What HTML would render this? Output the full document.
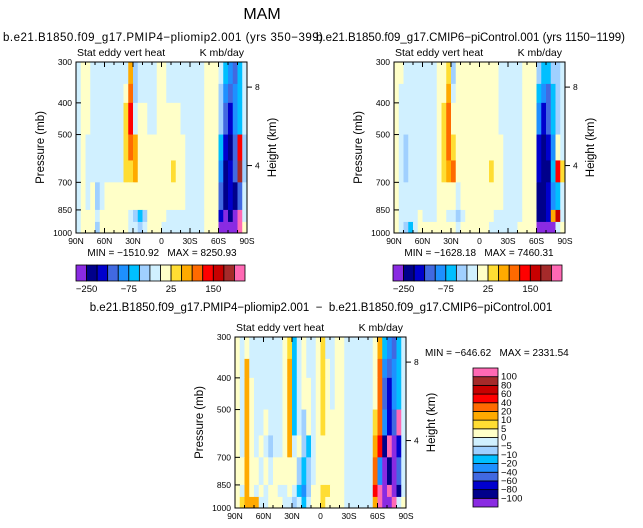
<!DOCTYPE html>
<html><head><meta charset="utf-8"><style>
body{margin:0;background:#fff;width:643px;height:528px;overflow:hidden}
svg{display:block;font-family:"Liberation Sans",sans-serif}
text{white-space:pre}
</style></head><body>
<svg id="s" width="643" height="528" viewBox="0 0 643 528">
<text x="262" y="19" font-size="16" text-anchor="middle">MAM</text>
<text x="3" y="41" font-size="11.5" textLength="320">b.e21.B1850.f09_g17.PMIP4−pliomip2.001 (yrs 350−399)</text>
<text x="316" y="41" font-size="11.5">b.e21.B1850.f09_g17.CMIP6−piControl.001 (yrs 1150−1199)</text>
<text x="321" y="311" font-size="11.5" text-anchor="middle">b.e21.B1850.f09_g17.PMIP4−pliomip2.001  −  b.e21.B1850.f09_g17.CMIP6−piControl.001</text>
</svg>
<script>
const latLabels=["90N","60N","30N","0","30S","60S","90S"];
const pTicks=[300,400,500,700,850,1000];
const pEdges=[300,350,400,500,600,700,850,925,1000];
const hTickLabels=["8","4"];
const hTickP=[358,622];
const topLevels=[-250,-200,-150,-100,-75,-50,-25,0,25,50,75,100,150,200,250];
const diffLevels=[-100,-80,-60,-40,-20,-10,-5,0,5,10,20,40,60,80,100];
const colors=["#8a2be2","#00008b","#0000cd","#4169e1","#1e90ff","#00bfff","#a0d0ff","#d0f0ff","#ffffc8","#ffdd33","#ffaa00","#ff6a00","#ff0000","#c80000","#a52a2a","#ff69b4"];
const gridA=[
[-10,10,10,-10,-10,-10,-10,-10,-10,-10,-10,60,-30,-10,-10,-10,-10,10,10,-10,-10,-10,-10,-10,-10,-10,-10,10,10,10,-10,-60,-90,-120,-60,-10],
[-10,10,10,-10,-10,-10,-10,-10,-10,-10,10,90,-30,-10,-10,-10,-10,10,10,-10,-10,-10,-10,-10,-10,-10,-10,10,10,10,-30,-90,-120,-90,-60,-10],
[-10,10,10,-10,-10,-10,-10,-10,-10,-10,30,120,-10,10,10,-10,-10,10,10,10,10,10,-10,-10,-10,-10,-10,10,10,10,-30,-120,-170,-90,-60,-10],
[-10,10,-10,-10,-10,-10,-10,-10,-10,-10,30,90,60,10,10,10,10,10,10,10,10,10,10,-10,-10,-10,-10,10,10,10,-60,-170,-220,-120,120,-30],
[-10,10,-10,-10,-10,-10,-10,-10,-10,-10,30,30,60,10,10,10,10,10,10,10,30,10,10,-10,-10,-10,-10,10,10,10,-90,-220,-170,-120,200,-30],
[-10,10,-10,10,-30,-10,10,10,10,10,10,10,10,10,10,10,10,10,10,10,10,10,10,-10,-10,-10,-10,10,10,10,-120,-220,-170,-220,-120,-10],
[-10,10,10,10,-10,10,10,10,10,10,10,-10,-30,-60,-30,10,10,10,10,-10,-10,-10,-10,-10,-10,-10,-10,10,10,10,-170,-300,-220,-300,300,-10],
[-10,10,10,10,-30,10,10,10,10,10,10,-10,-10,-30,-10,10,10,10,-10,-10,-10,-10,-10,-10,-10,-10,-10,10,10,10,-300,-300,-300,-300,300,10]];
const gridB=[
[10,10,-10,-10,-10,-10,-10,-10,-10,10,10,30,-30,10,10,10,10,10,10,10,10,10,-10,-10,-10,-10,-10,10,10,10,-30,-60,-60,-30,-30,-10],
[10,-10,-10,-10,-10,-10,-10,-10,-10,10,10,60,-10,10,10,10,10,10,10,10,10,10,-10,-10,-10,-10,-10,10,10,10,-60,-90,-120,-60,-30,-10],
[10,-10,-10,-10,-10,-10,-10,-10,-10,10,30,90,10,10,10,10,10,10,10,10,10,10,-10,-10,-10,-10,-10,10,10,10,-90,-170,-120,-60,-30,-10],
[10,-10,-30,-10,-10,-10,-10,-10,-10,10,30,90,30,10,10,10,10,10,10,10,10,10,10,-10,-10,-10,-10,10,10,10,-170,-220,-170,-90,10,-10],
[10,-10,-30,-10,-10,-10,-10,-10,-10,10,30,60,90,10,10,10,10,10,10,10,30,10,10,-10,-10,-10,-10,10,10,10,-170,-220,-220,-60,120,30],
[10,-10,-10,-10,-10,-10,-10,-10,-10,10,10,10,10,-10,10,10,10,10,10,10,10,10,10,-10,-10,-10,-10,10,10,10,-220,-220,-170,-90,-60,-10],
[10,-10,-10,-10,-10,10,-10,-10,-10,10,10,-10,-10,-30,-10,10,10,10,10,10,10,-10,-10,-10,-10,-10,-10,10,10,10,-220,-220,-170,60,150,-10],
[10,-10,-30,-60,-10,10,10,10,10,10,10,10,10,-10,10,10,10,10,10,10,-10,-10,-10,-10,-10,-10,10,10,10,10,-300,-300,-300,-300,-10,10]];
const gridD=[
[2,-2,2,-2,-2,-2,-2,-2,-2,-2,2,7,-15,-2,2,-2,-2,2,7,-2,-2,2,2,-2,-2,-2,-2,-2,-2,2,15,-15,-30,-50,-15,-2],
[2,-2,15,-2,-2,-2,-2,-2,-2,-2,2,15,-15,-2,2,-2,-2,2,7,2,-2,2,2,-2,-2,-2,-2,-2,-2,2,30,-30,-50,-30,-15,-2],
[2,-2,15,2,-2,-2,-2,-2,-2,-2,2,15,-15,-2,2,2,-2,2,7,2,-2,2,2,-2,-2,-2,-2,-2,-2,2,30,-50,-70,-30,-15,-2],
[2,-2,15,2,-2,-2,2,-2,-2,-2,2,15,-15,-2,-7,2,-2,2,7,2,2,2,2,-2,-2,-2,-2,-2,-2,7,30,-30,-70,-50,150,-2],
[2,-2,15,2,-2,2,-2,-7,-2,-2,2,15,-2,2,-7,-15,-2,2,2,2,2,2,2,-2,-2,-2,-2,-2,-2,15,50,-90,150,-120,-70,-2],
[2,2,15,2,2,-2,2,-2,2,2,2,2,2,-7,-15,-7,-2,2,2,2,2,2,2,-2,-2,-2,-2,-2,-2,30,-30,-120,-90,-120,-50,-2],
[2,-2,15,2,-2,2,-2,2,2,-2,-2,2,-2,-15,-30,-7,2,2,7,7,2,2,2,-2,-2,-2,-2,-2,-2,50,150,-120,150,-120,-90,-2],
[2,7,15,15,15,-2,-2,2,2,2,-2,-2,-7,-2,-15,-2,2,2,7,2,2,2,2,-2,-2,-2,-2,-2,-2,15,150,-120,-120,150,-2,2]];
const topCbLabels=["-250","-75","25","150"];
const topCbIdx=[0,4,8,12];
const statsA="MIN = −1510.92   MAX = 8250.93";
const statsB="MIN = −1628.18   MAX = 7460.31";
const statsD="MIN = −646.62   MAX = 2331.54";

const NS="http://www.w3.org/2000/svg";
const svg=document.getElementById('s');
function mk(tag,attrs,parent){const e=document.createElementNS(NS,tag);for(const k in attrs)e.setAttribute(k,attrs[k]);(parent||svg).appendChild(e);return e;}
function binColor(v,lv){let i=0;while(i<lv.length&&v>=lv[i])i++;return colors[i];}
function panel(name,x0,y0,w,h,grid,lv){
  const g=mk('g',{});
  
  
  const yOf=p=>y0+h*Math.log(p/300)/Math.log(1000/300);
  const nc=grid[0].length;
  grid.forEach((row,r)=>{row.forEach((v,c)=>{
    const rc=mk('rect',{x:(x0+w*c/nc).toFixed(2),y:yOf(pEdges[r]).toFixed(2),width:(w/nc+0.4).toFixed(2),height:(yOf(pEdges[r+1])-yOf(pEdges[r])+0.4).toFixed(2),fill:binColor(v,lv)},g);
    
    
  });});
  const fr=mk('rect',{x:x0,y:y0,width:w,height:h,fill:'none',stroke:'#000','stroke-width':1},g);
  
  
  for(let k=0;k<=18;k++){const x=x0+w*k/18;const L=k%3==0?5:3;
    mk('line',{x1:x,y1:y0+h,x2:x,y2:y0+h-L,stroke:'#000'},g);mk('line',{x1:x,y1:y0,x2:x,y2:y0+L,stroke:'#000'},g);}
  latLabels.forEach((t,i)=>{const tx=mk('text',{x:x0+w*i/6,y:y0+h+11,'font-size':8.5,'text-anchor':'middle'},g);tx.textContent=t;
    
    });
  pTicks.forEach(p=>{const y=yOf(p);mk('line',{x1:x0,y1:y,x2:x0+5,y2:y,stroke:'#000'},g);
    const tx=mk('text',{x:x0-4,y:y+3,'font-size':8.5,'text-anchor':'end'},g);tx.textContent=p;
    
    });
  hTickP.forEach((p,i)=>{const y=yOf(p);mk('line',{x1:x0+w,y1:y,x2:x0+w+5,y2:y,stroke:'#000'},g);
    const tx=mk('text',{x:x0+w+8,y:y+3,'font-size':8.5},g);tx.textContent=hTickLabels[i];
    
    });
  const yl=mk('text',{x:0,y:0,'font-size':11.5,'text-anchor':'middle',transform:`translate(${x0-32},${y0+h/2}) rotate(-90)`},g);yl.textContent='Pressure (mb)';
  
  
  const hl=mk('text',{x:0,y:0,'font-size':11.5,'text-anchor':'middle',transform:`translate(${x0+w+29},${y0+h/2}) rotate(-90)`},g);hl.textContent='Height (km)';
  
  
  const st=mk('text',{x:x0+1,y:y0-6,'font-size':10.5},g);st.textContent='Stat eddy vert heat';
  
  
  const un=mk('text',{x:x0+w-3,y:y0-6,'font-size':10.5,'text-anchor':'end'},g);un.textContent='K mb/day';
  
  
  return g;
}
function hbar(x0,y0,w,h){const g=mk('g',{});
  
  
  colors.forEach((c,i)=>{const r=mk('rect',{x:x0+w*i/16,y:y0,width:w/16,height:h,fill:c,stroke:'#000','stroke-width':0.8},g);
    
    });
  topCbLabels.forEach((t,i)=>{const tx=mk('text',{x:x0+w*(topCbIdx[i]+1)/16,y:y0+h+11,'font-size':9.5,'text-anchor':'middle'},g);tx.textContent=t.replace('-','−');
    
    });
}
function stat(x,y,t,anchor){const tx=mk('text',{x:x,y:y,'font-size':10,'text-anchor':anchor});tx.textContent=t;
  
  }

panel('left-panel',76,62,171,171,gridA,topLevels);
panel('right-panel',394,62,171,171,gridB,topLevels);
panel('diff-panel',235,337,171,171,gridD,diffLevels);
stat(162,256,statsA,'middle');stat(479,256,statsB,'middle');stat(425,356,statsD,'start');
hbar(76,265,169,16);hbar(393,265,169,16);
(function(){const x0=473,y0=368,w=25,h=139;const g=mk('g',{});
  
  
  colors.forEach((c,i)=>{const r=mk('rect',{x:x0,y:y0+h*(15-i)/16,width:w,height:h/16,fill:c,stroke:'#000','stroke-width':0.8},g);
    
    });
  diffLevels.forEach((v,i)=>{const tx=mk('text',{x:x0+w+3,y:y0+h*(15-i)/16+3,'font-size':9.5},g);tx.textContent=String(v).replace('-','−');
    
    });
})();
</script>
</body></html>
